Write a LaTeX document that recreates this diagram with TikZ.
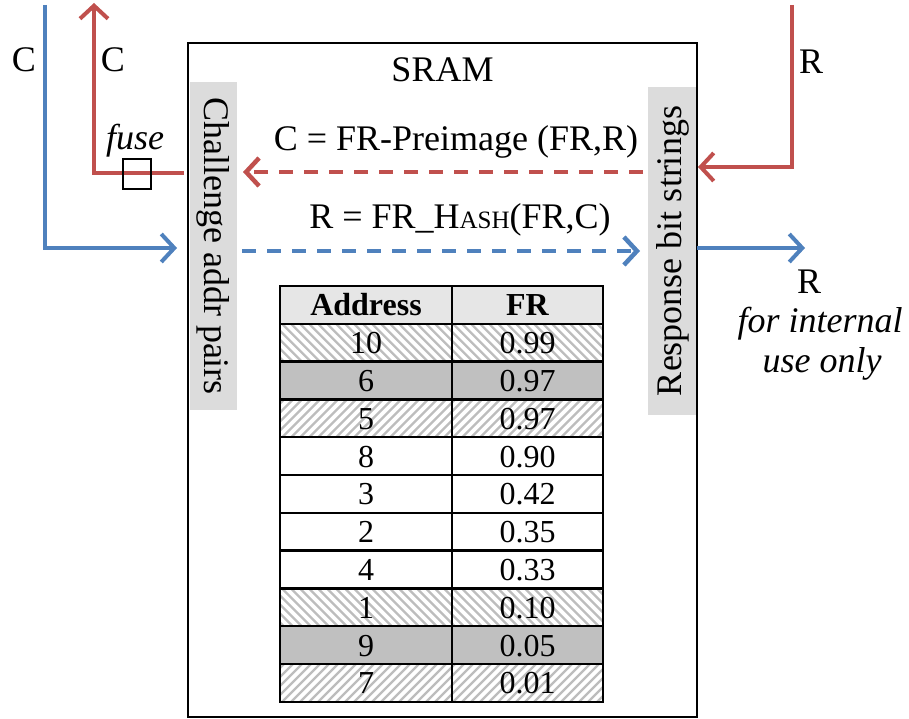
\documentclass[tikz,border=0pt]{standalone}
\usepackage{fontspec}
\setmainfont{Liberation Serif}
\usetikzlibrary{arrows.meta}
\definecolor{cred}{HTML}{C0504D}
\definecolor{cblue}{HTML}{4F81BD}
\definecolor{hdr}{HTML}{E6E6E6}
\definecolor{dgray}{HTML}{C0C0C0}
\definecolor{lgray}{HTML}{DCDCDC}
\definecolor{hatchc}{HTML}{BDBDBD}
\begin{document}
\begin{tikzpicture}[x=1pt,y=-1pt,
  txt/.style={font=\fontsize{36}{40}\selectfont, inner sep=0pt},
  ittxt/.style={font=\fontsize{36}{40}\selectfont\itshape, inner sep=0pt},
  tab/.style={font=\fontsize{32}{36}\selectfont, inner sep=0pt},
  tabh/.style={font=\fontsize{32}{36}\selectfont\bfseries, inner sep=0pt},
  arr/.style={line width=4pt, -{Straight Barb[length=13pt,width=28pt]}},
  dsh/.style={line width=4.5pt, dash pattern=on 14pt off 11pt, -{Straight Barb[length=13pt,width=28pt]}},
  side/.style={fill=lgray, inner sep=0pt, font=\fontsize{36}{40}\selectfont},
  hatchline/.style={hatchc, line width=2.3pt},
  gr/.style={fill=dgray},
  wh/.style={fill=white},
  grid/.style={line width=2.5pt, black}
]
\useasboundingbox (0,0) rectangle (909,719);

% side boxes
\node[side, rotate=-90, minimum width=328pt, minimum height=47pt] (cbox) at (213.5,246) {Challenge addr pairs};
\node[side, rotate=90, minimum width=328pt, minimum height=49pt] (rbox) at (672.5,251) {Response bit strings};

% SRAM box
\node[draw, line width=2pt, minimum width=509pt, minimum height=674pt, inner sep=0pt] (sram) at (442.5,380) {};
\node[txt] (sramlab) at (442.5,70) {SRAM};

% table fills
\path[fill=hdr] (280,286) rectangle (603,323.8);
\foreach \s [count=\i] in {wh,gr,wh,wh,wh,wh,wh,wh,gr,wh}{
  \pgfmathsetmacro\yt{286+37.8*\i}
  \path[\s] (280,\yt) rectangle (603,\yt+37.8);
}
% hatching "\" rows
\foreach \i in {1,8}{
  \pgfmathsetmacro\yt{286+37.8*\i}
  \begin{scope}
    \clip (280,\yt) rectangle (603,\yt+37.8);
    \foreach \k in {-45,-36,...,330}{
      \draw[hatchline] (280+\k,\yt-2) -- ++(42,42);
    }
  \end{scope}
}
% hatching "/" rows
\foreach \i in {3,10}{
  \pgfmathsetmacro\yt{286+37.8*\i}
  \begin{scope}
    \clip (280,\yt) rectangle (603,\yt+37.8);
    \foreach \k in {-45,-36,...,330}{
      \draw[hatchline] (280+\k,\yt+40) -- ++(42,-42);
    }
  \end{scope}
}
% table text
\node[tabh] (hA) at (366,305) {Address};
\node[tabh] (hF) at (527.5,305) {FR};
\foreach \a/\f [count=\i] in {10/0.99,6/0.97,5/0.97,8/0.90,3/0.42,2/0.35,4/0.33,1/0.10,9/0.05,7/0.01}{
  \pgfmathsetmacro\yt{286+37.8*\i}
  \node[tab] (a\i) at (366,\yt+19.5) {\a};
  \node[tab] (f\i) at (527.5,\yt+19.5) {\f};
}
% grid
\foreach \i in {1,...,10}{
  \draw[grid] (280,286+37.8*\i) -- (603,286+37.8*\i);
}
\draw[grid] (452,286) -- (452,702);
\draw[grid] (280,286) rectangle (603,702);

% coordinates
\coordinate (bCtop) at (45,5);
\coordinate (bCend) at (177,248);
\coordinate (rCstart) at (184,173);
\coordinate (rCtop) at (94,3);
\coordinate (rRtop) at (792,5);
\coordinate (rRend) at (698,167);
\coordinate (bRstart) at (697,248);
\coordinate (bRend) at (805,248);
\coordinate (dRs) at (643,172);
\coordinate (dRe) at (243,172);
\coordinate (dBs) at (242,251);
\coordinate (dBe) at (640,251);

% connectors
\draw[arr, cblue] (bCtop) |- (bCend);
\draw[arr, cred] (rCstart) -| (rCtop);
\draw[arr, cred] (rRtop) |- (rRend);
\draw[arr, cblue] (bRstart) -- (bRend);
\draw[dsh, cred] (dRs) -- (dRe);
\draw[dsh, cblue] (dBs) -- (dBe);

% fuse
\node[draw, line width=1.5pt, minimum width=28pt, minimum height=30pt, inner sep=0pt] (fuse) at (137,174) {};
\node[ittxt] (fuselab) at (135,141) {fuse};

% labels
\node[txt] (lC1) at (24,60) {C};
\node[txt] (lC2) at (113,60) {C};
\node[txt] (lR1) at (811,62) {R};
\node[txt] (lR2) at (809,282) {R};
\node[ittxt] (lint1) at (820,324) {for internal};
\node[ittxt] (lint2) at (822,364) {use only};
\node[txt] (pre) at (456,142) {C = FR-Preimage (FR,R)};
\node[txt] (hash) at (460,220) {R = FR\_H{\fontsize{25}{30}\selectfont ASH}(FR,C)};
\end{tikzpicture}
\end{document}
